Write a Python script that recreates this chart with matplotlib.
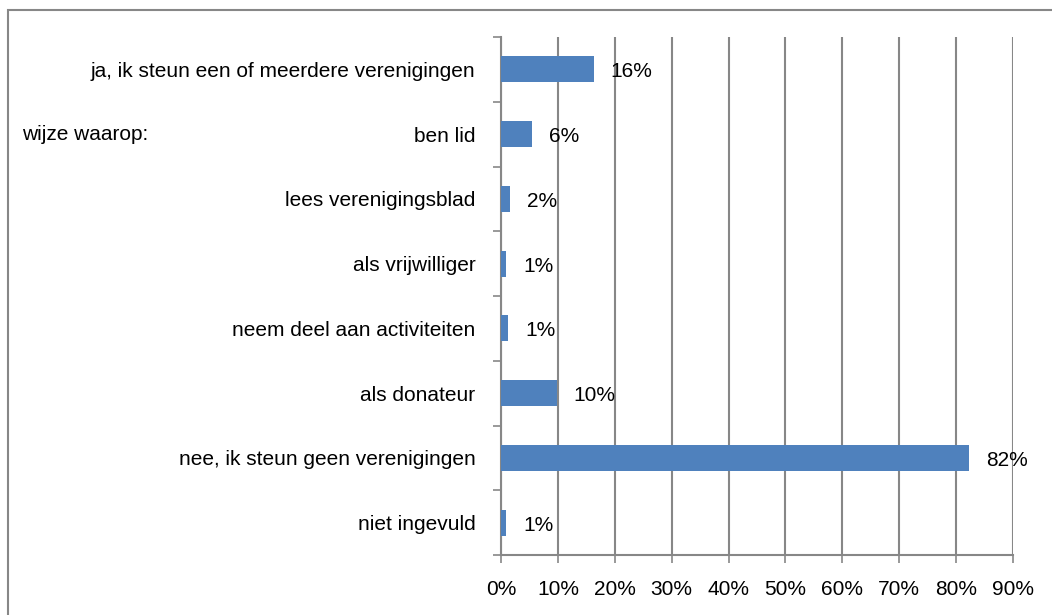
import matplotlib.pyplot as plt
from matplotlib.patches import Rectangle

categories = [
    "ja, ik steun een of meerdere verenigingen",
    "ben lid",
    "lees verenigingsblad",
    "als vrijwilliger",
    "neem deel aan activiteiten",
    "als donateur",
    "nee, ik steun geen verenigingen",
    "niet ingevuld",
]
values = [0.163, 0.054, 0.016, 0.009, 0.012, 0.098, 0.822, 0.009]
labels = ["16%", "6%", "2%", "1%", "1%", "10%", "82%", "1%"]
ticks = [0, 0.1, 0.2, 0.3, 0.4, 0.5, 0.6, 0.7, 0.8, 0.9]

plt.rcParams['font.family'] = ['Liberation Sans', 'DejaVu Sans']
fs = 15
fig = plt.figure(figsize=(10.52, 6.15), dpi=100)
W, H = 1052, 615

# outer chart frame
fig.patches.append(Rectangle((8 / W, -0.01), 1.1, 1 - 10 / H + 0.01,
                             transform=fig.transFigure, fill=False,
                             edgecolor='#878787', linewidth=1.5))
# title, cut off by the top edge as in the screenshot
fig.text(390 / W, 1 + 4 / H, "Steun aan verenigingen (n=154)", ha='right',
         va='baseline', fontsize=fs)

ax = fig.add_axes([501 / W, 1 - 555 / H, 512 / W, 518 / H])
y = list(range(len(categories)))
ax.barh(y, values, height=0.4, color='#4F81BD', zorder=3)
for yi, v, lab in zip(y, values, labels):
    ax.text(v + 0.03, yi + 0.04, lab, va='center', ha='left', fontsize=fs,
            zorder=4)

ax.set_ylim(len(categories) - 0.5, -0.5)
ax.set_xlim(0, 0.9)
ax.set_xticks(ticks)
ax.set_xticklabels([f"{int(round(t * 100))}%" for t in ticks], fontsize=fs)
ax.set_yticks(y)
ax.set_yticklabels(categories, fontsize=fs)
ax.set_yticks([i - 0.5 for i in range(len(categories) + 1)], minor=True)
ax.tick_params(axis='y', which='major', length=0, pad=18.5)
ax.tick_params(axis='y', which='minor', length=6, color='#878787', width=1.2)
ax.tick_params(axis='x', length=6, color='#878787', width=1.2, pad=12)
ax.grid(axis='x', color='#878787', linewidth=1.5, zorder=0)
for s in ['top', 'right']:
    ax.spines[s].set_visible(False)
for s in ['left', 'bottom']:
    ax.spines[s].set_color('#878787')
    ax.spines[s].set_linewidth(1.5)

# "wijze waarop:" on the row of "ben lid"
ax.text(-479 / 512, 1, "wijze waarop:", transform=ax.get_yaxis_transform(),
        fontsize=fs, va='center', ha='left', clip_on=False)

fig.savefig("out.png", dpi=100)
